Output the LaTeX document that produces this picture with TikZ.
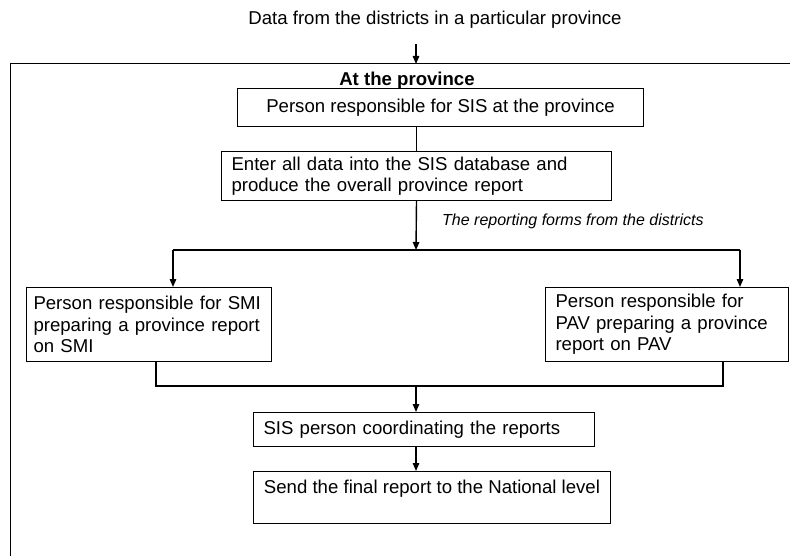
\documentclass[tikz,border=0pt]{standalone}
\usepackage{fontspec}
\setmainfont{Liberation Sans}
\usepackage{tikz}
\usetikzlibrary{arrows.meta, positioning}

\begin{document}
\begin{tikzpicture}[x=1pt, y=-1pt,
  every node/.style={font=\fontsize{18.6}{21.5}\selectfont},
  box/.style={draw, line width=1pt, anchor=north west, align=left, inner xsep=10pt, inner ysep=4pt},
  arrow/.style={-{Triangle[length=8pt,width=6.5pt]}, line width=1.4pt},
  link/.style={line width=1.2pt}]
  \useasboundingbox (0,0) rectangle (790,556);
  % frame round the province level
  \draw[line width=1pt] (10,570) |- (800,64);

  \node (data) at (435,20) {Data from the districts in a particular province};
  \coordinate (entry) at (416,64);
  \draw[arrow] (data.south -| entry) ++(0,12) -- (entry);

  \node[anchor=base, font=\fontsize{18.6}{21.5}\selectfont\bfseries] (atprov) at (407,86) {At the province};
  \node[box, align=center, minimum width=406pt, minimum height=38pt] (sis) at (237,88) {Person responsible for SIS at the province};
  \node[box, text width=370pt, minimum height=49pt] (enter) at (221,151) {Enter all data into the SIS database and\\produce the overall province report};
  \node[anchor=west, inner sep=0pt, font=\fontsize{16}{18.5}\selectfont\itshape] (forms) at (442,221) {The reporting forms from the districts};

  \node[box, text width=231pt, minimum height=74pt, inner xsep=7pt] (smi) at (26,287) {Person responsible for SMI\\preparing a province report\\on SMI};
  \node[box, text width=223pt, minimum height=74pt] (pav) at (545,287) {Person responsible for\\PAV preparing a province\\report on PAV};
  \node[box, text width=321pt, minimum height=34pt] (coord) at (253,412) {SIS person coordinating the reports};
  \node[box, minimum width=357pt, minimum height=52pt, inner xsep=6pt] (final) at (253,471) {Send the final report to the National level\\\mbox{}};

  \coordinate (split) at (416,250);
  \coordinate (lft) at (173,250);
  \coordinate (rgt) at (740,250);
  \coordinate (jl) at (156,386);
  \coordinate (jr) at (723,386);
  \coordinate (join) at (416,386);

  \draw[link] (enter.north |- sis.south) -- (enter.north);
  \draw[arrow] (enter.south) -- (split);
  \draw[link] (lft) -- (rgt);
  \draw[arrow] (lft) -- (lft |- smi.north);
  \draw[arrow] (rgt) -- (rgt |- pav.north);
  \draw[link] (jl |- smi.south) -- (jl) -- (jr) -- (jr |- pav.south);
  \draw[arrow] (join) -- (join |- coord.north);
  \draw[arrow] (coord.south -| join) -- (final.north -| join);
\end{tikzpicture}
\end{document}
